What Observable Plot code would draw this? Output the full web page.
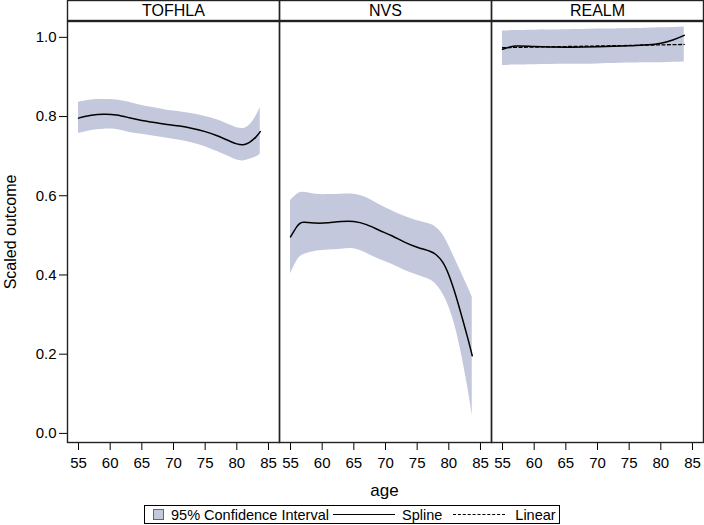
<!DOCTYPE html>
<html>
<head>
<meta charset="utf-8">
<script src="https://cdn.jsdelivr.net/npm/d3@7"></script>
<script src="https://cdn.jsdelivr.net/npm/@observablehq/plot@0.6"></script>
<style>
  body { margin: 0; background: #fff; font-family: "Liberation Sans", Arial, sans-serif; }
  #age { width: 704px; box-sizing: border-box; padding-left: 66px; padding-right: 1px; text-align: center; font-size: 17px; height: 22px; line-height: 22px; color: #000; }
  #legend { margin: 3px auto 0 auto; width: 416px; height: 19px; border: 1.4px solid #000; display: flex; align-items: center; font-size: 14.5px; box-sizing: border-box; color: #000; }
  .sw { width: 11px; height: 11px; background: #c4c8dc; border: 1px solid #666; margin-left: 8px; margin-right: 7px; box-sizing: border-box; }
  .ln { width: 62px; height: 0; border-top: 1.4px solid #000; margin-left: 4px; margin-right: 7px; }
  .dl { width: 52px; height: 0; border-top: 1.4px dashed #000; margin-left: 11px; margin-right: 10px; }
</style>
</head>
<body>
<div id="chart"></div>
<div id="age">age</div>
<div id="legend">
  <div class="sw"></div><span>95% Confidence Interval</span>
  <div class="ln"></div><span>Spline</span>
  <div class="dl"></div><span>Linear</span>
</div>
<script>
const tests = ["TOFHLA", "NVS", "REALM"];

const tofhlaAge = [55, 57, 59, 61, 63, 65, 67, 69, 71, 73, 75, 77, 79, 80, 81, 82, 83, 83.7];
const tofhlaFit = [0.796, 0.803, 0.806, 0.804, 0.797, 0.790, 0.785, 0.780, 0.776, 0.770, 0.762, 0.751, 0.737, 0.731, 0.729, 0.735, 0.748, 0.762];
const tofhlaLo  = [0.757, 0.765, 0.768, 0.767, 0.760, 0.755, 0.750, 0.745, 0.740, 0.733, 0.724, 0.711, 0.697, 0.690, 0.688, 0.692, 0.698, 0.705];
const tofhlaHi  = [0.836, 0.842, 0.843, 0.842, 0.836, 0.828, 0.822, 0.816, 0.812, 0.807, 0.800, 0.791, 0.778, 0.772, 0.770, 0.778, 0.800, 0.823];

const nvsAge = [55, 56, 57, 59, 61, 63, 65, 67, 69, 71, 73, 75, 77, 78, 79, 80, 81, 82, 83, 83.7];
const nvsFit = [0.496, 0.522, 0.533, 0.531, 0.532, 0.535, 0.535, 0.527, 0.513, 0.499, 0.483, 0.470, 0.460, 0.451, 0.433, 0.400, 0.353, 0.298, 0.240, 0.196];
const nvsLo  = [0.403, 0.435, 0.451, 0.460, 0.463, 0.465, 0.466, 0.455, 0.440, 0.427, 0.412, 0.400, 0.388, 0.376, 0.354, 0.320, 0.270, 0.200, 0.115, 0.045];
const nvsHi  = [0.588, 0.603, 0.609, 0.604, 0.603, 0.604, 0.604, 0.595, 0.578, 0.562, 0.548, 0.537, 0.529, 0.520, 0.503, 0.474, 0.440, 0.405, 0.370, 0.344];

const realmAge = [55, 57, 60, 65, 70, 75, 78, 80, 82, 83.7];
const realmFit = [0.970, 0.978, 0.977, 0.975, 0.976, 0.979, 0.981, 0.985, 0.994, 1.005];
const realmLo  = [0.929, 0.930, 0.931, 0.932, 0.933, 0.935, 0.936, 0.936, 0.937, 0.938];
const realmHi  = [1.016, 1.017, 1.018, 1.019, 1.021, 1.022, 1.023, 1.024, 1.025, 1.026];
const realmLinAge = [55, 83.7];
const realmLin = [0.974, 0.982];

const yTicks = [0, 0.2, 0.4, 0.6, 0.8, 1.0];
const xTicks = [55, 60, 65, 70, 75, 80, 85];

function rows(test, ages, fit, lo, hi) {
  return ages.map((a, i) => ({test, age: a, fit: fit[i], lo: lo[i], hi: hi[i]}));
}
const curves = [
  ...rows("TOFHLA", tofhlaAge, tofhlaFit, tofhlaLo, tofhlaHi),
  ...rows("NVS", nvsAge, nvsFit, nvsLo, nvsHi),
  ...rows("REALM", realmAge, realmFit, realmLo, realmHi)
];
const linear = realmLinAge.map((a, i) => ({test: "REALM", age: a, fit: realmLin[i]}));
const headers = tests.map(t => ({test: t}));

const band = "#c4c8dc";

const chart = Plot.plot({
  width: 704,
  height: 480,
  marginLeft: 66,
  marginRight: 1,
  marginTop: 21,
  marginBottom: 38,
  style: {fontFamily: "'Liberation Sans', Arial, sans-serif", fontSize: "15px", color: "#000", background: "#fff"},
  fx: {domain: tests, padding: 0, axis: null, label: null},
  x: {domain: [53.26, 86.74], ticks: xTicks, tickSize: 8, tickPadding: 7, label: null},
  y: {domain: [-0.023, 1.04], ticks: yTicks, tickFormat: ".1f", tickSize: 8, tickPadding: 3,
      label: "Scaled outcome", labelAnchor: "center", labelArrow: "none", labelOffset: 63},
  marks: [
    Plot.areaY(curves, {fx: "test", x: "age", y1: "lo", y2: "hi", fill: band, curve: "natural"}),
    Plot.lineY(linear, {fx: "test", x: "age", y: "fit", stroke: "#000", strokeWidth: 1.3, strokeDasharray: "3,2.5"}),
    Plot.lineY(curves, {fx: "test", x: "age", y: "fit", stroke: "#000", strokeWidth: 1.5, curve: "natural"}),
    Plot.frame({stroke: "#222", strokeWidth: 1.4}),
    Plot.frame({stroke: "#222", strokeWidth: 1.4, insetTop: -21, insetBottom: 422}),
    Plot.text(headers, {fx: "test", text: "test", frameAnchor: "top", dy: -10.5, lineAnchor: "middle", fontSize: 16, fill: "#000"})
  ]
});
const yLabel = chart.querySelector('[aria-label="y-axis label"] text');
if (yLabel) yLabel.style.fontSize = "16px";
document.getElementById("chart").appendChild(chart);
</script>
</body>
</html>
